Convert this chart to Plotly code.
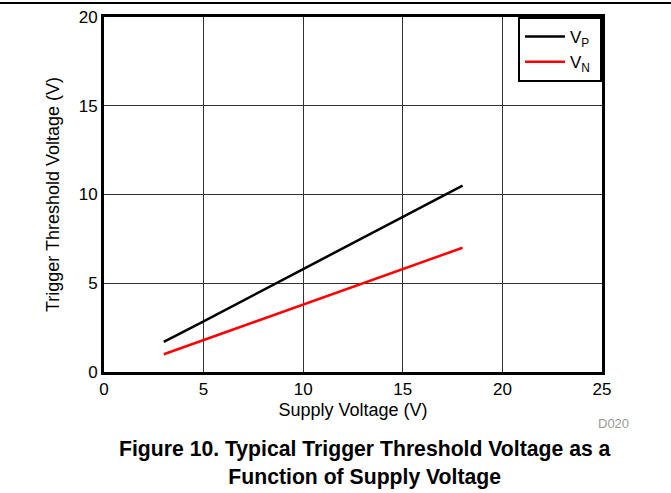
import plotly.graph_objects as go

supply_v = [3, 5, 10, 15, 18]
vp = [1.7, 2.85, 5.8, 8.75, 10.5]
vn = [1.0, 1.8, 3.8, 5.8, 7.0]
x_ticks = [0, 5, 10, 15, 20, 25]
y_ticks = [0, 5, 10, 15, 20]

W, H = 671, 493
L, R, T, B = 104, 69, 17, 121
pw, ph = W - L - R, H - T - B

def px_x(p):
    return (p - L) / pw

def px_y(p):
    return (H - B - p) / ph

font = "Liberation Sans, Arial, sans-serif"

fig = go.Figure()
fig.add_trace(go.Scatter(x=supply_v, y=vp, mode="lines", name="V<sub>P</sub>\u00a0",
                         line=dict(color="black", width=2.5)))
fig.add_trace(go.Scatter(x=supply_v, y=vn, mode="lines", name="V<sub>N</sub>\u00a0",
                         line=dict(color="#ff0000", width=2.5)))

fig.update_layout(
    width=W, height=H,
    margin=dict(l=L, r=R, t=T, b=B, autoexpand=False),
    paper_bgcolor="white", plot_bgcolor="white",
    font=dict(family=font, size=17, color="black"),
    showlegend=True,
    legend=dict(x=1, y=1, xanchor="right", yanchor="top",
                bgcolor="white", bordercolor="black", borderwidth=2,
                font=dict(size=17), tracegroupgap=0, itemwidth=40),
    xaxis=dict(range=[0, 25], tickvals=x_ticks, showgrid=True, gridcolor="#333333",
               gridwidth=1, zeroline=False, showline=True, linecolor="black",
               linewidth=3, mirror=True, ticks="", ticklen=0, automargin=False,
               tickfont=dict(size=17),
               title=dict(text="Supply Voltage (V)", standoff=5, font=dict(size=18))),
    yaxis=dict(range=[0, 20], tickvals=y_ticks, showgrid=True, gridcolor="#333333",
               gridwidth=1, zeroline=False, showline=True, linecolor="black",
               linewidth=3, mirror=True, ticks="", ticklen=0, automargin=False,
               tickfont=dict(size=17),
               title=dict(text="Trigger Threshold Voltage (V)", standoff=15, font=dict(size=18))),
)

fig.add_shape(type="line", xref="paper", yref="paper",
              x0=px_x(0), x1=px_x(W), y0=px_y(3), y1=px_y(3),
              line=dict(color="black", width=2))

fig.add_annotation(xref="paper", yref="paper", x=px_x(631), y=px_y(423),
                   text="D020", showarrow=False, xanchor="right", yanchor="middle",
                   font=dict(size=13, color="#999999"))
fig.add_annotation(xref="paper", yref="paper", x=px_x(365), y=px_y(463),
                   text="<b>Figure 10. Typical Trigger Threshold Voltage as a<br>Function of Supply Voltage</b>",
                   showarrow=False, xanchor="center", yanchor="middle",
                   font=dict(size=21.2), align="center")

fig.write_html("out.html", config={"displayModeBar": False},
               post_script="document.body.style.margin='0';document.body.style.overflow='hidden';")
